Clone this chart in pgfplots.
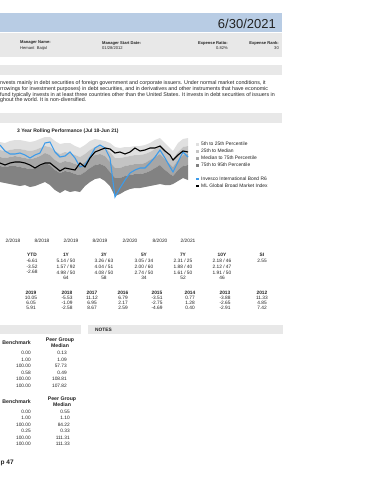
\documentclass[border=0pt]{standalone}
\usepackage{pgfplots}
\pgfplotsset{compat=1.18}
\usepackage{pgfplotstable}
\usepackage{fontspec}
\setmainfont{Liberation Sans}
\definecolor{hdrblue}{HTML}{B8CCE4}
\definecolor{bandgray}{HTML}{E8E8E8}
\definecolor{pA}{HTML}{E0E0E0}
\definecolor{pB}{HTML}{C4C4C4}
\definecolor{pC}{HTML}{A6A6A6}
\definecolor{pD}{HTML}{828282}
\definecolor{fundblue}{HTML}{3C9BEA}
\definecolor{txt}{HTML}{222222}
\newcommand{\fs}[1]{\fontsize{#1}{#1}\selectfont}

\pgfplotstableread{
x   p5  p25 p50 p75 p95 fund idx
0   142 150 157 166 182 145 163
5   143 151 158 167 183 151 165
10  141 150 157 166 184 154 163
15  140 149 156 166 185 154 162
20  140 149 157 167 186 153 162
25  141 150 158 168 185 155 163
30  142 151 159 169 187 158 165
35  141 150 158 168 186 155 168
40  139 148 156 166 184 153 165
45  137 146 153 163 182 143 163
50  137 147 155 165 185 142 163
55  141 151 160 170 190 152 167
60  144 154 163 173 193 157 171
65  143 152 161 171 190 156 168
70  143 153 162 172 192 152 169
75  146 155 164 174 191 158 170
80  148 157 165 175 192 167 163
85  145 154 162 172 186 165 167
90  141 150 158 168 182 157 158
95  139 147 155 165 179 148 152
100 140 146 154 164 178 145 150
105 141 148 156 166 181 148 148
110 143 152 162 172 186 158 149
115 147 158 168 178 196 197 153
120 148 158 168 178 194 188 152
125 147 157 166 176 191 180 154
130 147 156 165 175 189 173 152
135 146 155 164 174 188 170 148
140 146 155 164 174 188 168 151
145 145 154 163 173 187 168 150
150 143 152 160 171 186 163 148
155 140 149 157 168 185 157 148
160 138 146 154 165 184 150 146
165 143 151 159 170 185 158 151
170 148 156 164 174 185 167 155
173 151 159 167 176 184 172 160
178 143 152 160 170 181 162 155
183 139 147 155 166 178 152 151
188 138 146 154 165 180 157 152
}\bands

\begin{document}
\begin{tikzpicture}
\useasboundingbox (0,0) rectangle (370pt,-480pt);
\fill[white] (0,0) rectangle (370pt,-480pt);

\begin{axis}[at={(0pt,-238pt)}, anchor=south west, scale only axis,
  width=193pt, height=110pt, xmin=0, xmax=193, ymin=0, ymax=110,
  axis line style={draw=none}, ytick=\empty,
  xtick={13,42,71,100,130,160,188},
  xticklabels={2/2018,8/2018,2/2019,8/2019,2/2020,8/2020,2/2021},
  major tick length=0pt, tick style={draw=none},
  xticklabel style={font=\fs{4.8}, text=txt, inner sep=1pt},
  stack plots=y]
\addplot[draw=none] table[x=x, y expr=238-\thisrow{p95}] {\bands};
\addplot[draw=none, fill=pD] table[x=x, y expr=\thisrow{p95}-\thisrow{p75}] {\bands} \closedcycle;
\addplot[draw=none, fill=pC] table[x=x, y expr=\thisrow{p75}-\thisrow{p50}] {\bands} \closedcycle;
\addplot[draw=none, fill=pB] table[x=x, y expr=\thisrow{p50}-\thisrow{p25}] {\bands} \closedcycle;
\addplot[draw=none, fill=pA] table[x=x, y expr=\thisrow{p25}-\thisrow{p5}] {\bands} \closedcycle;
\end{axis}
\begin{axis}[at={(0pt,-238pt)}, anchor=south west, scale only axis,
  width=193pt, height=110pt, xmin=0, xmax=193, ymin=0, ymax=110, hide axis]
\addplot[fundblue, line width=1.1pt] table[x=x, y expr=238-\thisrow{fund}] {\bands};
\addplot[black, line width=1.1pt] table[x=x, y expr=238-\thisrow{idx}] {\bands};
\end{axis}

\begin{scope}[x=1pt,y=-1pt, every node/.style={inner sep=0pt, text=txt}]
% header band
\fill[hdrblue] (0,13) rectangle (282,32);
\node[anchor=east, font=\fs{13}] at (276,23.5) {6/30/2021};
\fill[bandgray] (0,33) rectangle (282,57);
\node[anchor=west, font=\fs{4.1}\bfseries] at (20,43) {Manager Name:};
\node[anchor=west, font=\fs{4.1}] at (20,48) {Hemant\ \ Baijal};
\node[anchor=west, font=\fs{4.1}\bfseries] at (102,43) {Manager Start Date:};
\node[anchor=west, font=\fs{4.1}] at (102,48) {01/28/2012};
\node[anchor=east, font=\fs{4.1}\bfseries] at (228,43.5) {Expense Ratio:};
\node[anchor=east, font=\fs{4.1}] at (228,48.5) {0.82\%};
\node[anchor=east, font=\fs{4.1}\bfseries] at (279,43.5) {Expense Rank:};
\node[anchor=east, font=\fs{4.1}] at (279,48.5) {30};
% description
\fill[bandgray] (0,65) rectangle (282,75);
\node[anchor=west, font=\fs{5.35}] at (0,83.3) {nvests mainly in debt securities of foreign government and corporate issuers. Under normal market conditions, it};
\node[anchor=west, font=\fs{5.35}] at (0,89) {rrowings for investment purposes) in debt securities, and in derivatives and other instruments that have economic};
\node[anchor=west, font=\fs{5.35}] at (0,94.7) {fund typically invests in at least three countries other than the United States. It invests in debt securities of issuers in};
\node[anchor=west, font=\fs{5.35}] at (0,100.3) {ghout the world. It is non-diversified.};
\fill[bandgray] (0,113) rectangle (282,123);
% chart title
\node[anchor=west, font=\fs{5}\bfseries] at (17,131) {3 Year Rolling Performance (Jul 18-Jun 21)};
% legend
\fill[pA] (195.5,142.5) rectangle (198.5,145.5);
\node[anchor=west, font=\fs{4.9}] at (201,144) {5th to 25th Percentile};
\fill[pB] (195.5,149.5) rectangle (198.5,152.5);
\node[anchor=west, font=\fs{4.9}] at (201,151) {25th to Median};
\fill[pC] (195.5,156.5) rectangle (198.5,159.5);
\node[anchor=west, font=\fs{4.9}] at (201,158) {Median to 75th Percentile};
\fill[pD] (195.5,163.5) rectangle (198.5,166.5);
\node[anchor=west, font=\fs{4.9}] at (201,165) {75th to 95th Percentile};
\fill[fundblue] (195.5,178) rectangle (198.5,180);
\node[anchor=west, font=\fs{4.9}] at (201,179) {Invesco International Bond R6};
\fill[black] (195.5,185) rectangle (198.5,187);
\node[anchor=west, font=\fs{4.9}] at (201,186) {ML Global Broad Market Index};
% trailing returns
\foreach \cx/\h/\a/\b/\c/\r in {32/YTD/{-6.61}/{-3.52}/{-2.68}/{},66/1Y/{5.14 / 50}/{1.57 / 92}/{4.98 / 50}/64,104/3Y/{3.26 / 63}/{4.04 / 51}/{4.08 / 50}/58,144/5Y/{3.05 / 34}/{2.00 / 60}/{2.74 / 50}/34,183/7Y/{2.31 / 25}/{1.88 / 40}/{1.61 / 50}/52,222/10Y/{2.18 / 46}/{2.12 / 47}/{1.91 / 50}/46,262/SI/{2.55}/{}/{}/{}}{
  \node[font=\fs{4.8}\bfseries] at (\cx,255) {\h};
  \node[font=\fs{4.8}] at (\cx,260.7) {\a};
  \node[font=\fs{4.8}] at (\cx,266.7) {\b};
  \node[font=\fs{4.8}] at (\cx,272.3) {\c};
  \node[font=\fs{4.8}] at (\cx,277.7) {\r};
}
% calendar returns
\foreach \cx/\h/\a/\b/\c in {31/2019/10.05/6.05/5.91,67/2018/-5.53/-1.09/-2.58,92/2017/11.12/6.95/8.67,123/2016/6.79/2.17/2.59,157/2015/-3.51/-2.75/-4.69,190/2014/0.77/1.28/0.40,225/2013/-3.88/-2.65/-2.91,262/2012/11.33/4.85/7.42}{
  \node[font=\fs{4.8}\bfseries] at (\cx,293.3) {\h};
  \node[font=\fs{4.8}] at (\cx,298.3) {\a};
  \node[font=\fs{4.8}] at (\cx,303.3) {\b};
  \node[font=\fs{4.8}] at (\cx,308.3) {\c};
}
% bottom bands
\fill[bandgray] (0,325) rectangle (81,334);
\fill[bandgray] (88,325) rectangle (283,334);
\node[anchor=west, font=\fs{4.8}\bfseries] at (95,329.8) {NOTES};
% table 1
\node[anchor=east, font=\fs{5.2}\bfseries] at (31,343) {Benchmark};
\node[font=\fs{5.2}\bfseries] at (60,340) {Peer Group};
\node[font=\fs{5.2}\bfseries] at (60,345.5) {Median};
\foreach \yy/\a/\b in {353/0.00/0.13,359.5/1.00/1.09,366/100.00/57.73,372.5/0.58/0.49,379/100.00/108.81,385.5/100.00/107.82}{
  \node[anchor=east, font=\fs{4.8}] at (31,\yy) {\a};
  \node[anchor=east, font=\fs{4.8}] at (67,\yy) {\b};
}
% table 2
\node[anchor=east, font=\fs{5.2}\bfseries] at (31,402) {Benchmark};
\node[font=\fs{5.2}\bfseries] at (62,399) {Peer Group};
\node[font=\fs{5.2}\bfseries] at (62,404.5) {Median};
\foreach \yy/\a/\b in {411.5/0.00/0.55,418/1.00/1.10,424.5/100.00/84.22,431/0.25/0.33,437.5/100.00/111.31,444/100.00/111.33}{
  \node[anchor=east, font=\fs{4.8}] at (31,\yy) {\a};
  \node[anchor=east, font=\fs{4.8}] at (70,\yy) {\b};
}
\node[anchor=west, font=\fs{6.5}\bfseries] at (0.5,463) {p 47};
\end{scope}
\end{tikzpicture}
\end{document}
